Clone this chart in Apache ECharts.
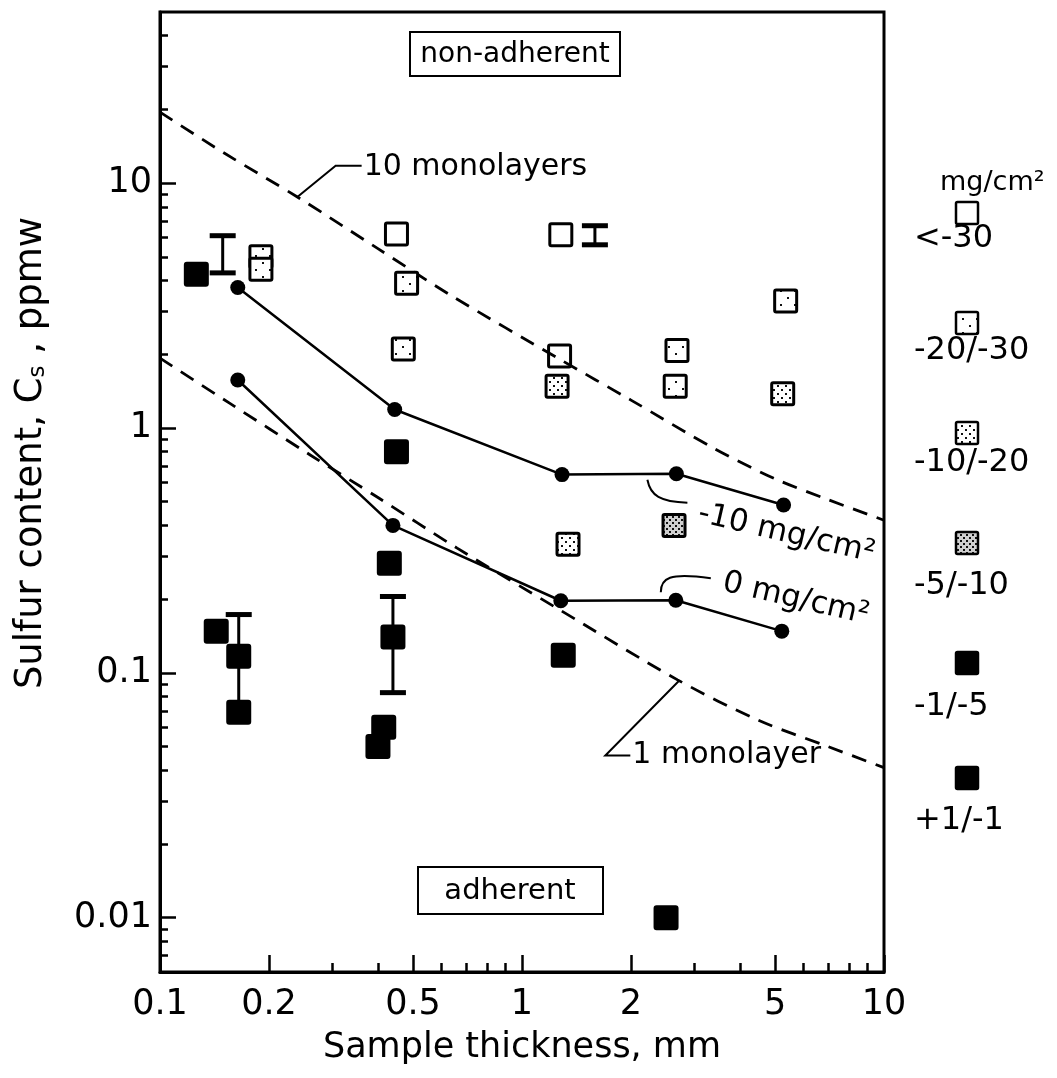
<!DOCTYPE html>
<html><head><meta charset="utf-8">
<script src="https://cdn.jsdelivr.net/npm/echarts@6/dist/echarts.min.js"></script>
<style>html,body{margin:0;padding:0;background:#fff}#c{width:1057px;height:1078px}</style>
</head><body><div id="c"></div>
<script>
// ---------- data ----------
const xLabelTicks = [0.1, 0.2, 0.5, 1, 2, 5, 10];
const xMinorTicks = [0.3, 0.4, 0.6, 0.7, 0.8, 0.9, 3, 4, 6, 7, 8, 9];
const yLabelTicks = [0.01, 0.1, 1, 10];
const yMinorTicks = [0.007, 0.008, 0.009, 0.02, 0.03, 0.04, 0.05, 0.06, 0.07, 0.08, 0.09,
  0.2, 0.3, 0.4, 0.5, 0.6, 0.7, 0.8, 0.9, 2, 3, 4, 5, 6, 7, 8, 9, 20, 30, 40];

const monolayer10 = [[0.1, 19.5], [0.15, 13.3], [0.239, 8.8], [0.4, 5.4], [0.634, 3.49],
  [1.278, 1.9], [2, 1.3], [3.39, 0.826], [5, 0.62], [7, 0.51], [10, 0.42]];
const monolayer1 = [[0.1, 1.93], [0.156, 1.26], [0.26, 0.776], [0.4, 0.52], [0.662, 0.323],
  [1.27, 0.181], [2.69, 0.0936], [4.5, 0.064], [7, 0.05], [10, 0.041]];

const lineMinus10 = [[0.164, 3.75], [0.445, 1.19], [1.29, 0.645], [2.67, 0.65], [5.28, 0.485]];
const lineZero = [[0.164, 1.57], [0.44, 0.40], [1.28, 0.197], [2.66, 0.198], [5.22, 0.148]];

const sqBelow30 = [[0.45, 6.2], [1.28, 6.15], [1.27, 1.97]];
const sq20to30 = [[0.19, 5.0], [0.19, 4.45], [0.48, 3.9], [0.47, 2.1], [2.68, 2.07], [2.65, 1.48], [5.35, 3.3]];
const sq10to20 = [[1.25, 1.48], [5.25, 1.38], [1.34, 0.335]];
const sq5to10 = [[2.63, 0.40]];
const sqBlack = [[0.126, 4.25], [0.45, 0.8], [0.43, 0.28], [0.44, 0.14], [0.415, 0.06], [0.40, 0.05],
  [0.143, 0.148], [0.165, 0.117], [0.165, 0.069], [1.30, 0.118], [2.5, 0.01]];

// [x, low, high, lower cap shown (1/0)]
const errorBars = [[0.149, 4.3, 6.1, 1], [0.165, 0.069, 0.173, 0], [0.44, 0.083, 0.205, 1], [1.59, 5.6, 6.7, 1]];

const legendTitle = 'mg/cm²';
const legendLabels = ['<-30', '-20/-30', '-10/-20', '-5/-10', '-1/-5', '+1/-1'];

// ---------- styles ----------
const FONT = "'DejaVu Sans', 'Liberation Sans', Arial, sans-serif";
function makePattern(size, dots, dot, bg) {
  const c = document.createElement('canvas');
  c.width = size; c.height = size;
  const g = c.getContext('2d');
  g.fillStyle = bg; g.fillRect(0, 0, size, size);
  g.fillStyle = '#111';
  dots.forEach(d => g.fillRect(d[0], d[1], dot, dot));
  return { image: c, repeat: 'repeat' };
}
const fills = [
  'none',
  makePattern(14, [[3, 3], [10, 10]], 2, '#fff'),
  makePattern(8, [[1, 1], [5, 5]], 2, '#fff'),
  makePattern(6, [[0, 0], [3, 3]], 2, '#cfcfcf'),
  '#000',
  '#000'
];
const SQ = 22;

const chart = echarts.init(document.getElementById('c'), null, { renderer: 'canvas' });

function sqSeries(name, data, fill) {
  return {
    name, type: 'custom', data, z: 5, encode: { x: 0, y: 1 },
    renderItem: function (params, api) {
      const p = api.coord([api.value(0), api.value(1)]);
      return {
        type: 'rect',
        shape: { x: p[0] - SQ / 2, y: p[1] - SQ / 2, width: SQ, height: SQ, r: 1.5 },
        style: { fill: fill, stroke: '#000', lineWidth: 3 }
      };
    }
  };
}
function dashSeries(name, data) {
  return {
    name, type: 'line', data, smooth: 0.3, showSymbol: false, symbol: 'none', z: 2,
    lineStyle: { color: '#000', width: 2.8, type: [15, 10] }, emphasis: { disabled: true }
  };
}
function solidSeries(name, data) {
  return {
    name, type: 'line', data, symbol: 'circle', symbolSize: 15, showSymbol: true, z: 3,
    lineStyle: { color: '#000', width: 2.5 }, itemStyle: { color: '#000' }, emphasis: { disabled: true }
  };
}

const axisCommon = {
  type: 'log', splitLine: { show: false }, minorTick: { show: false }
};

const option = {
  backgroundColor: '#fff',
  animation: false,
  grid: { left: 160, right: 173, top: 12, bottom: 106, show: true, borderColor: '#000', borderWidth: 3, backgroundColor: 'transparent' },
  xAxis: [
    Object.assign({}, axisCommon, {
      min: 0.1, max: 10, position: 'bottom',
      axisLine: { show: true, lineStyle: { color: '#000', width: 3 } },
      axisTick: { show: true, inside: true, length: 17, lineStyle: { color: '#000', width: 2.5 }, customValues: xLabelTicks },
      axisLabel: { show: true, customValues: xLabelTicks, color: '#000', fontSize: 35, fontFamily: FONT, margin: 15,
        formatter: v => String(+(+v).toPrecision(6)) },
      name: 'Sample thickness, mm', nameLocation: 'middle', nameGap: 58,
      nameTextStyle: { color: '#000', fontSize: 35, fontFamily: FONT }
    }),
    Object.assign({}, axisCommon, {
      min: 0.1, max: 10, position: 'bottom',
      axisLine: { show: false },
      axisTick: { show: true, inside: true, length: 9, lineStyle: { color: '#000', width: 2.5 }, customValues: xMinorTicks },
      axisLabel: { show: false }
    })
  ],
  yAxis: [
    Object.assign({}, axisCommon, {
      min: 0.006, max: 50, position: 'left',
      axisLine: { show: true, lineStyle: { color: '#000', width: 3 } },
      axisTick: { show: true, inside: true, length: 16, lineStyle: { color: '#000', width: 2.5 }, customValues: yLabelTicks },
      axisLabel: { show: true, customValues: yLabelTicks, color: '#000', fontSize: 35, fontFamily: FONT, margin: 8,
        formatter: v => String(+(+v).toPrecision(6)) },
      name: 'Sulfur content, C{sub|s} , ppmw', nameLocation: 'middle', nameGap: 110, nameRotate: 90,
      nameTextStyle: { color: '#000', fontSize: 37, fontFamily: FONT, padding: [0, 0, 0, 78],
        rich: { sub: { fontSize: 23, fontFamily: FONT, color: '#000', verticalAlign: 'bottom', padding: [14, 0, 0, 0] } } }
    }),
    Object.assign({}, axisCommon, {
      min: 0.006, max: 50, position: 'left',
      axisLine: { show: false },
      axisTick: { show: true, inside: true, length: 8, lineStyle: { color: '#000', width: 2.5 }, customValues: yMinorTicks },
      axisLabel: { show: false }
    })
  ],
  series: [
    dashSeries('10 monolayers', monolayer10),
    dashSeries('1 monolayer', monolayer1),
    {
      name: 'error bars', type: 'custom', data: errorBars, z: 4,
      encode: { x: 0, y: [1, 2] },
      renderItem: function (params, api) {
        const x = api.value(0);
        const lo = api.coord([x, api.value(1)]);
        const hi = api.coord([x, api.value(2)]);
        const hw = 13;
        const st = { stroke: '#000', lineWidth: 3 };
        const cap = { stroke: '#000', lineWidth: 5 };
        const kids = [
          { type: 'line', shape: { x1: lo[0], y1: lo[1], x2: hi[0], y2: hi[1] }, style: st },
          { type: 'line', shape: { x1: hi[0] - hw, y1: hi[1], x2: hi[0] + hw, y2: hi[1] }, style: cap }
        ];
        if (api.value(3)) kids.push({ type: 'line', shape: { x1: lo[0] - hw, y1: lo[1], x2: lo[0] + hw, y2: lo[1] }, style: cap });
        return { type: 'group', children: kids };
      }
    },
    solidSeries('-10 mg/cm²', lineMinus10),
    solidSeries('0 mg/cm²', lineZero),
    sqSeries(legendLabels[0], sqBelow30, fills[0]),
    sqSeries(legendLabels[1], sq20to30, fills[1]),
    sqSeries(legendLabels[2], sq10to20, fills[2]),
    sqSeries(legendLabels[3], sq5to10, fills[3]),
    sqSeries(legendLabels[4] + ', ' + legendLabels[5], sqBlack, fills[4])
  ]
};
chart.setOption(option);

// ---------- annotations & legend (graphic) ----------
const px = p => chart.convertToPixel({ xAxisIndex: 0, yAxisIndex: 0 }, p);
const T = (x, y, text, extra) => Object.assign({
  type: 'text', x, y, z: 20,
  style: Object.assign({ text, fill: '#000', fontSize: 30, fontFamily: FONT, align: 'left', verticalAlign: 'middle' }, extra || {})
});
const L = (pts, w) => ({ type: 'polyline', z: 20, shape: { points: pts }, style: { stroke: '#000', lineWidth: w || 2, fill: null } });
const B = (p0, p1, p2, p3) => ({ type: 'bezierCurve', z: 20,
  shape: { x1: p0[0], y1: p0[1], cpx1: p1[0], cpy1: p1[1], cpx2: p2[0], cpy2: p2[1], x2: p3[0], y2: p3[1] },
  style: { stroke: '#000', lineWidth: 2, fill: null } });

const a10 = px([0.24, 8.8]);
const a1 = px([2.72, 0.093]);
const c10 = px(lineMinus10[3]);
const c0 = px(lineZero[3]);
const deg = Math.PI / 180;

const graphics = [];
// 10 monolayers
graphics.push(L([[a10[0], a10[1]], [a10[0] + 38, a10[1] - 31], [a10[0] + 64, a10[1] - 31]]));
graphics.push(T(a10[0] + 66, a10[1] - 30, '10 monolayers'));
// 1 monolayer
graphics.push(L([[a1[0], a1[1]], [a1[0] - 74, a1[1] + 75], [a1[0] - 49, a1[1] + 75]]));
graphics.push(T(a1[0] - 47, a1[1] + 75, '1 monolayer'));
// -10 mg/cm2
graphics.push(B([c10[0] - 29, c10[1] + 6], [c10[0] - 26, c10[1] + 22], [c10[0] - 16, c10[1] + 28], [c10[0] + 11, c10[1] + 29]));
graphics.push({ type: 'text', x: c10[0] + 110, y: c10[1] + 60, rotation: -13 * deg, z: 20,
  style: { text: '-10 mg/cm²', fill: '#000', fontSize: 31, fontFamily: FONT, align: 'center', verticalAlign: 'middle' } });
// 0 mg/cm2
graphics.push(B([c0[0] - 15, c0[1] - 8], [c0[0] - 15, c0[1] - 22], [c0[0] - 7, c0[1] - 28], [c0[0] + 35, c0[1] - 22]));
graphics.push({ type: 'text', x: c0[0] + 120, y: c0[1] - 1, rotation: -13 * deg, z: 20,
  style: { text: '0 mg/cm²', fill: '#000', fontSize: 31, fontFamily: FONT, align: 'center', verticalAlign: 'middle' } });

// region boxes
graphics.push({ type: 'rect', z: 20, shape: { x: 410, y: 32, width: 210, height: 44 }, style: { fill: '#fff', stroke: '#000', lineWidth: 2 } });
graphics.push(T(515, 55, 'non-adherent', { align: 'center', fontSize: 28 }));
graphics.push({ type: 'rect', z: 20, shape: { x: 418, y: 867, width: 185, height: 47 }, style: { fill: '#fff', stroke: '#000', lineWidth: 2 } });
graphics.push(T(510, 891, 'adherent', { align: 'center', fontSize: 29 }));

// legend column
graphics.push(T(940, 183, legendTitle, { fontSize: 27 }));
const legSymY = [213, 323, 433, 543, 663, 778];
const legTxtY = [239, 351, 463, 586, 707, 821];
legendLabels.forEach((lab, i) => {
  graphics.push({ type: 'rect', z: 20, shape: { x: 967 - SQ / 2, y: legSymY[i] - SQ / 2, width: SQ, height: SQ, r: 1.5 },
    style: { fill: i === 0 ? '#fff' : fills[i], stroke: '#000', lineWidth: 2.5 } });
  graphics.push(T(914, legTxtY[i], lab, { fontSize: 32 }));
});

chart.setOption({ graphic: graphics });
</script>
</body></html>
